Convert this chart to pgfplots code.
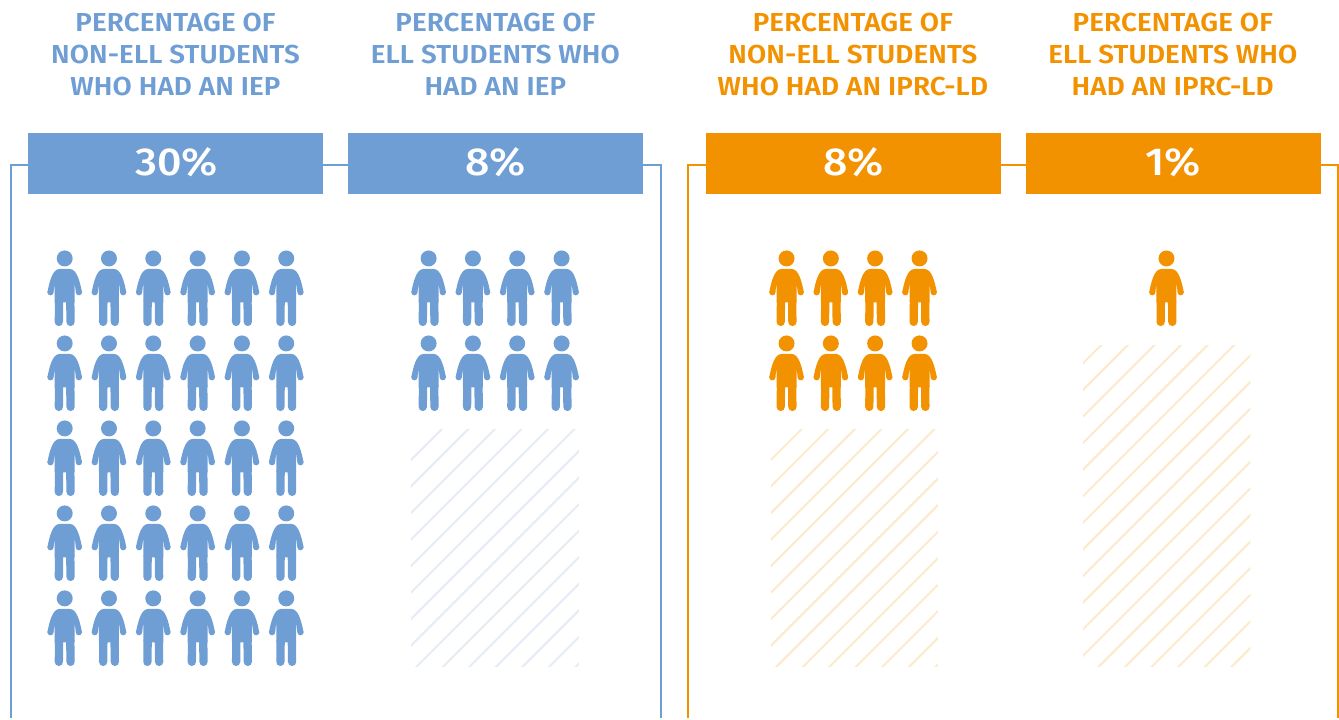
\documentclass[border=0pt]{standalone}
\usepackage{fontspec}
\setmainfont{Fira Sans}
\newfontfamily\headfont[FakeStretch=1.07,LetterSpace=0.5]{Fira Sans SemiBold}
\newfontfamily\valfont[FakeStretch=1.1]{Fira Sans Medium}
\usepackage{pgfplots}
\pgfplotsset{compat=1.18}
\definecolor{bluemain}{HTML}{6F9ED4}
\definecolor{orangemain}{HTML}{F39200}
\definecolor{bluehatch}{HTML}{E5ECF6}
\definecolor{orangehatch}{HTML}{FDE9CC}
\pgfdeclareplotmark{person}{%
  % head
  \pgfpathcircle{\pgfpoint{0pt}{30.5pt}}{8pt}\pgfusepathqfill
  % body with arms
  \pgfpathmoveto{\pgfpoint{-10pt}{-13.5pt}}
  \pgflineto{\pgfpoint{-10pt}{6pt}}
  \pgfpathcurveto{\pgfpoint{-10.4pt}{3pt}}{\pgfpoint{-10.8pt}{0pt}}{\pgfpoint{-11.1pt}{-3pt}}
  \pgflineto{\pgfpoint{-17.3pt}{-3.5pt}}
  \pgfpathcurveto{\pgfpoint{-16.5pt}{1pt}}{\pgfpoint{-15pt}{8pt}}{\pgfpoint{-13pt}{12.5pt}}
  \pgfpathcurveto{\pgfpoint{-11.5pt}{16pt}}{\pgfpoint{-9pt}{20pt}}{\pgfpoint{-5pt}{20pt}}
  \pgflineto{\pgfpoint{5pt}{20pt}}
  \pgfpathcurveto{\pgfpoint{9pt}{20pt}}{\pgfpoint{11.5pt}{16pt}}{\pgfpoint{13pt}{12.5pt}}
  \pgfpathcurveto{\pgfpoint{15pt}{8pt}}{\pgfpoint{16.5pt}{1pt}}{\pgfpoint{17.3pt}{-3.5pt}}
  \pgflineto{\pgfpoint{11.1pt}{-3pt}}
  \pgfpathcurveto{\pgfpoint{10.8pt}{0pt}}{\pgfpoint{10.4pt}{3pt}}{\pgfpoint{10pt}{6pt}}
  \pgflineto{\pgfpoint{10pt}{-13.5pt}}
  \pgfpathclose\pgfusepathqfill
  % hands
  \pgfpathcircle{\pgfpoint{-14.2pt}{-3.3pt}}{3.15pt}\pgfusepathqfill
  \pgfpathcircle{\pgfpoint{14.2pt}{-3.3pt}}{3.15pt}\pgfusepathqfill
  % legs
  \pgfsetroundcap
  \pgfsetlinewidth{8.3pt}
  \pgfpathmoveto{\pgfpoint{-5.85pt}{-33pt}}\pgflineto{\pgfpoint{-5.6pt}{-12pt}}\pgfusepathqstroke
  \pgfpathmoveto{\pgfpoint{5.85pt}{-33pt}}\pgflineto{\pgfpoint{5.6pt}{-12pt}}\pgfusepathqstroke
}
\begin{document}
\begin{tikzpicture}
\begin{axis}[
  scale only axis, width=1339pt, height=718pt,
  xmin=0, xmax=1339, ymin=0, ymax=718, y dir=reverse,
  hide axis, clip=false,
  every node/.append style={inner sep=0pt},
]
\path (axis cs:0,0) rectangle (axis cs:1339,718);
% frames
\addplot[bluemain, line width=2.5pt, mark=none] coordinates {(11,718) (11,165) (30,165)};
\addplot[bluemain, line width=2.5pt, mark=none] coordinates {(320,165) (350,165)};
\addplot[bluemain, line width=2.5pt, mark=none] coordinates {(640,165) (661,165) (661,718)};
\addplot[orangemain, line width=2.5pt, mark=none] coordinates {(688,718) (688,165) (710,165)};
\addplot[orangemain, line width=2.5pt, mark=none] coordinates {(1000,165) (1030,165)};
\addplot[orangemain, line width=2.5pt, mark=none] coordinates {(1318,165) (1338,165) (1338,718)};
% value boxes
\addplot[fill=bluemain, draw=none, mark=none] coordinates {(28,133) (323,133) (323,194) (28,194)} --cycle;
\addplot[fill=bluemain, draw=none, mark=none] coordinates {(348,133) (643,133) (643,194) (348,194)} --cycle;
\addplot[fill=orangemain, draw=none, mark=none] coordinates {(706,133) (1001,133) (1001,194) (706,194)} --cycle;
\addplot[fill=orangemain, draw=none, mark=none] coordinates {(1026,133) (1321,133) (1321,194) (1026,194)} --cycle;
% hatching
\begin{scope}
\clip (axis cs:411,430) rectangle (axis cs:579,666.5);
\pgfplotsinvokeforeach{0,...,14}{
  \draw[bluehatch, line width=2pt] (axis cs:{361},{510+26.55*#1+0}) -- (axis cs:{661},{210+26.55*#1});
}
\end{scope}
\begin{scope}
\clip (axis cs:771,430) rectangle (axis cs:938,666.5);
\pgfplotsinvokeforeach{0,...,14}{
  \draw[orangehatch, line width=2pt] (axis cs:{721},{510+26.55*#1}) -- (axis cs:{1021},{210+26.55*#1});
}
\end{scope}
\begin{scope}
\clip (axis cs:1083,345.5) rectangle (axis cs:1250.5,666.5);
\pgfplotsinvokeforeach{0,...,18}{
  \draw[orangehatch, line width=2pt] (axis cs:{1033},{413.5+26.6*#1}) -- (axis cs:{1333},{113.5+26.6*#1});
}
\end{scope}
% people
\addplot[only marks, mark=person, bluemain] coordinates {
(64.7,289)(109,289)(153.3,289)(197.7,289)(242,289)(286.3,289)
(64.7,374)(109,374)(153.3,374)(197.7,374)(242,374)(286.3,374)
(64.7,459)(109,459)(153.3,459)(197.7,459)(242,459)(286.3,459)
(64.7,544)(109,544)(153.3,544)(197.7,544)(242,544)(286.3,544)
(64.7,629)(109,629)(153.3,629)(197.7,629)(242,629)(286.3,629)
};
\addplot[only marks, mark=person, bluemain] coordinates {
(428.7,289)(473,289)(517.3,289)(561.7,289)
(428.7,374)(473,374)(517.3,374)(561.7,374)
};
\addplot[only marks, mark=person, orangemain] coordinates {
(786.7,289)(831,289)(875.3,289)(919.7,289)
(786.7,374)(831,374)(875.3,374)(919.7,374)
};
\addplot[only marks, mark=person, orangemain] coordinates {(1166.7,289)};
% headings
\tikzset{head/.style={align=center, font=\headfont\fontsize{26}{32}\selectfont, anchor=center},
         val/.style={font=\valfont\fontsize{39}{42}\selectfont, text=white, anchor=center}}
\node[head, text=bluemain] at (axis cs:175.5,57.5) {\strut PERCENTAGE OF\\NON-ELL STUDENTS\\WHO HAD AN IEP\strut};
\node[head, text=bluemain] at (axis cs:495.5,57.5) {\strut PERCENTAGE OF\\ELL STUDENTS WHO\\HAD AN IEP\strut};
\node[head, text=orangemain] at (axis cs:853,57.5) {\strut PERCENTAGE OF\\NON-ELL STUDENTS\\WHO HAD AN IPRC-LD\strut};
\node[head, text=orangemain] at (axis cs:1173,57.5) {\strut PERCENTAGE OF\\ELL STUDENTS WHO\\HAD AN IPRC-LD\strut};
\node[val] at (axis cs:176.5,162) {30\%};
\node[val] at (axis cs:495.5,162) {8\%};
\node[val] at (axis cs:854,162) {8\%};
\node[val] at (axis cs:1173,162) {1\%};
\end{axis}
\end{tikzpicture}
\end{document}
